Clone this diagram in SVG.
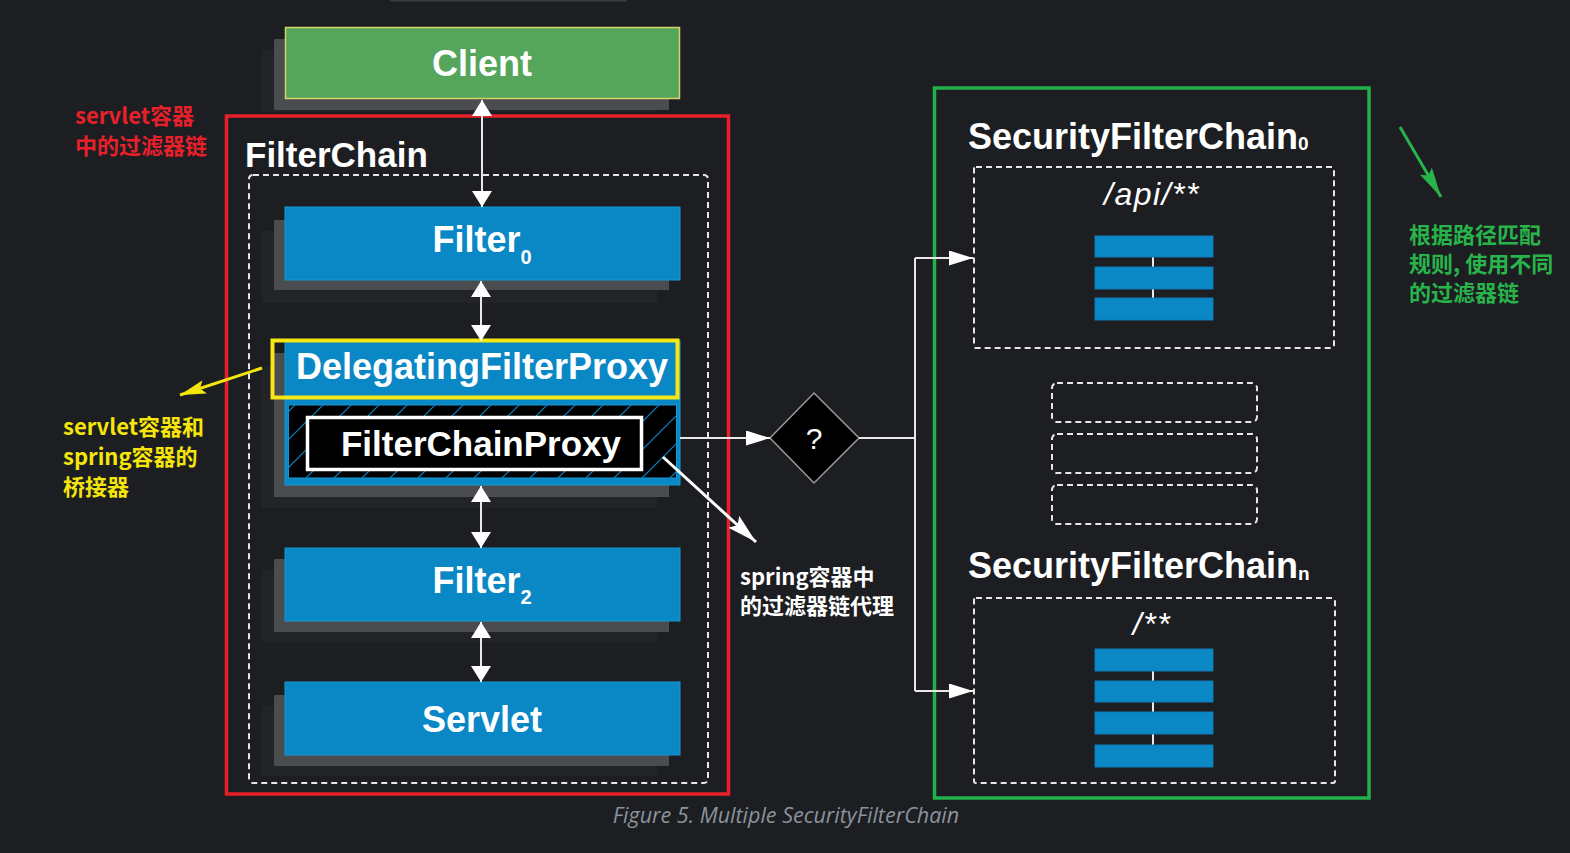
<svg xmlns="http://www.w3.org/2000/svg" width="1570" height="853" viewBox="0 0 1570 853">
<defs>
<style>
.sh2{fill:#222428}
.sh{fill:#4b4c50}
.blue{fill:#0a88c6;stroke:#1798d4;stroke-width:1}
.lbl{font-family:"Liberation Sans",Arial,sans-serif;font-weight:bold;fill:#ffffff;font-size:36px}
.mid{text-anchor:middle}
.dash{fill:none;stroke:#e6e6e6;stroke-width:2;stroke-dasharray:6 4}
.conn{fill:none;stroke:#e8e8e8;stroke-width:2}
.cjk{font-family:"Noto Sans CJK SC","Noto Sans",sans-serif;font-weight:bold;font-size:22px}
.bar{fill:#0a88c6;stroke:#0d7db5;stroke-width:1}
.barline{stroke:#e8e8e8;stroke-width:2}
</style>
<marker id="av" viewBox="0 0 16 20" refX="16" refY="10" markerWidth="16" markerHeight="20" markerUnits="userSpaceOnUse" orient="auto-start-reverse">
<path d="M0,0 L16,10 L0,20 z" fill="#ffffff"/>
</marker>
<marker id="ar" viewBox="0 0 24 15" refX="24" refY="7.5" markerWidth="24" markerHeight="15" markerUnits="userSpaceOnUse" orient="auto">
<path d="M0,0 L24,7.5 L0,15 z" fill="#ffffff"/>
</marker>
<marker id="ay" viewBox="0 0 26 14" refX="26" refY="7" markerWidth="26" markerHeight="14" markerUnits="userSpaceOnUse" orient="auto">
<path d="M0,0 L26,7 L0,14 L5,7 z" fill="#f3e50c"/>
</marker>
<marker id="aw" viewBox="0 0 30 16" refX="30" refY="8" markerWidth="30" markerHeight="16" markerUnits="userSpaceOnUse" orient="auto">
<path d="M0,0 L30,8 L0,16 L5,8 z" fill="#ffffff"/>
</marker>
<marker id="ag" viewBox="0 0 30 14" refX="30" refY="7" markerWidth="30" markerHeight="14" markerUnits="userSpaceOnUse" orient="auto">
<path d="M0,0 L30,7 L0,14 L5,7 z" fill="#28b44b"/>
</marker>
<pattern id="hatch" patternUnits="userSpaceOnUse" width="28" height="28">
<path d="M-7,7 L7,-7 M0,28 L28,0 M21,35 L35,21" stroke="#0b87c4" stroke-width="1.2"/>
</pattern>
</defs>

<rect x="0" y="0" width="1570" height="853" fill="#1c1e22"/>
<rect x="390" y="0" width="237" height="1.5" fill="#3a3c40"/>

<g id="client">
<rect x="262" y="50" width="395" height="62" class="sh2"/>
<rect x="274" y="39" width="395" height="71" class="sh"/>
<rect x="285.5" y="27.5" width="394" height="71" fill="#56a55d" stroke="#d8d46a" stroke-width="1.5"/>
<text x="482" y="76" class="lbl mid">Client</text>
</g>

<!-- Servlet container filter chain frame -->
<g id="filterchain">
<rect x="226.5" y="116" width="502" height="678" fill="none" stroke="#e8202a" stroke-width="3.5"/>
<text x="245" y="167" class="lbl" style="font-size:35px">FilterChain</text>
<rect x="249" y="175" width="459" height="608" rx="4" class="dash"/>
</g>

<g id="filter0">
<rect x="262" y="231" width="395" height="72" class="sh2"/>
<rect x="274" y="220" width="395" height="70" class="sh"/>
<rect x="285" y="207" width="395" height="73" class="blue"/>
<text x="482" y="252" class="lbl mid">Filter<tspan font-size="20" dy="12">0</tspan></text>
</g>

<g id="delegatingfilterproxy">
<rect x="262" y="366" width="395" height="142" class="sh2"/>
<rect x="274" y="353" width="395" height="144" class="sh"/>
<rect x="285" y="341" width="395" height="144" class="blue"/>
<rect x="272.5" y="340.5" width="405" height="57" fill="none" stroke="#f5e614" stroke-width="4"/>
<text x="482" y="379" class="lbl mid">DelegatingFilterProxy</text>
</g>

<g id="filterchainproxy">
<rect x="288.5" y="405" width="388" height="73" fill="#000000" stroke="#1798d4" stroke-width="1"/>
<rect x="288.5" y="405" width="388" height="73" fill="url(#hatch)"/>
<rect x="307.5" y="417.5" width="334" height="52" fill="#000000" stroke="#ffffff" stroke-width="3.5"/>
<text x="481" y="456" class="lbl mid" style="font-size:35px">FilterChainProxy</text>
</g>

<g id="filter2">
<rect x="262" y="570" width="395" height="72" class="sh2"/>
<rect x="274" y="559" width="395" height="73" class="sh"/>
<rect x="285" y="548" width="395" height="73" class="blue"/>
<text x="482" y="593" class="lbl mid">Filter<tspan font-size="20" dy="11">2</tspan></text>
</g>

<g id="servlet">
<rect x="262" y="706" width="395" height="70" class="sh2"/>
<rect x="274" y="695" width="395" height="71" class="sh"/>
<rect x="285" y="682" width="395" height="73" class="blue"/>
<text x="482" y="732" class="lbl mid">Servlet</text>
</g>

<g id="decision">
<polygon points="770,438 814,393 859,438 814,483" fill="#000000" stroke="#9a9a9a" stroke-width="1.5"/>
<text x="814" y="449" font-family="Liberation Sans, Arial, sans-serif" font-size="30" fill="#ffffff" text-anchor="middle">?</text>
</g>

<!-- Security filter chains -->
<g id="securityfilterchains">
<rect x="934.5" y="88" width="434.5" height="710" fill="none" stroke="#22b04a" stroke-width="3.5"/>
</g>

<g id="securityfilterchain0">
<text x="968" y="149" class="lbl">SecurityFilterChain<tspan font-size="19" dy="1">0</tspan></text>
<rect x="974" y="167" width="360" height="181" class="dash" rx="2"/>
<text x="1152" y="205" font-family="Liberation Sans, Arial, sans-serif" font-style="italic" font-size="32" fill="#ffffff" text-anchor="middle" letter-spacing="1.5">/api/**</text>
<line x1="1153" y1="250" x2="1153" y2="305" class="barline"/>
<rect x="1095" y="236" width="118" height="21" class="bar"/>
<rect x="1095" y="267" width="118" height="22" class="bar"/>
<rect x="1095" y="298" width="118" height="22" class="bar"/>
</g>

<g id="othersecurityfilterchains">
<rect x="1052" y="383" width="205" height="39" rx="5" class="dash"/>
<rect x="1052" y="434" width="205" height="39" rx="5" class="dash"/>
<rect x="1052" y="485" width="205" height="39" rx="5" class="dash"/>
</g>

<g id="securityfilterchainn">
<text x="968" y="578" class="lbl">SecurityFilterChain<tspan font-size="19" dy="2">n</tspan></text>
<rect x="974" y="598" width="361" height="185" class="dash" rx="2"/>
<text x="1152" y="635" font-family="Liberation Sans, Arial, sans-serif" font-style="italic" font-size="32" fill="#ffffff" text-anchor="middle" letter-spacing="1.5">/**</text>
<line x1="1153" y1="660" x2="1153" y2="757" class="barline"/>
<rect x="1095" y="649" width="118" height="22" class="bar"/>
<rect x="1095" y="681" width="118" height="21" class="bar"/>
<rect x="1095" y="712" width="118" height="22" class="bar"/>
<rect x="1095" y="745" width="118" height="22" class="bar"/>
</g>

<g id="connectors">
<line x1="482" y1="100" x2="482" y2="207" class="conn" marker-start="url(#av)" marker-end="url(#av)"/>
<line x1="481" y1="281" x2="481" y2="341" class="conn" marker-start="url(#av)" marker-end="url(#av)"/>
<line x1="481" y1="486" x2="481" y2="548" class="conn" marker-start="url(#av)" marker-end="url(#av)"/>
<line x1="481" y1="622" x2="481" y2="682" class="conn" marker-start="url(#av)" marker-end="url(#av)"/>
<path d="M680,438 L770,438" class="conn" marker-end="url(#ar)"/>
<path d="M859,438 L915,438" class="conn"/>
<path d="M915,258 L915,691" class="conn"/>
<path d="M915,258 L973,258" class="conn" marker-end="url(#ar)"/>
<path d="M915,691 L973,691" class="conn" marker-end="url(#ar)"/>
</g>

<g id="annotations">
<text class="cjk" fill="#e8202a"><tspan x="75" y="124">servlet容器</tspan><tspan x="75" y="154">中的过滤器链</tspan></text>
<line x1="262" y1="368" x2="180" y2="395" stroke="#f3e50c" stroke-width="3" marker-end="url(#ay)"/>
<text class="cjk" fill="#f5e50a"><tspan x="63" y="435">servlet容器和</tspan><tspan x="63" y="465">spring容器的</tspan><tspan x="63" y="495">桥接器</tspan></text>
<line x1="663" y1="457" x2="756" y2="542" stroke="#ffffff" stroke-width="3" marker-end="url(#aw)"/>
<text class="cjk" fill="#ffffff"><tspan x="740" y="585">spring容器中</tspan><tspan x="740" y="614">的过滤器链代理</tspan></text>
<line x1="1400" y1="127" x2="1441" y2="197" stroke="#28b44b" stroke-width="3" marker-end="url(#ag)"/>
<text class="cjk" fill="#28b44b"><tspan x="1409" y="243">根据路径匹配</tspan><tspan x="1409" y="272">规则, 使用不同</tspan><tspan x="1409" y="301">的过滤器链</tspan></text>
</g>

<text x="786" y="823" font-family="Open Sans, Noto Sans, sans-serif" font-style="italic" font-size="21.5" fill="#8b939c" text-anchor="middle">Figure 5. Multiple SecurityFilterChain</text>
</svg>
